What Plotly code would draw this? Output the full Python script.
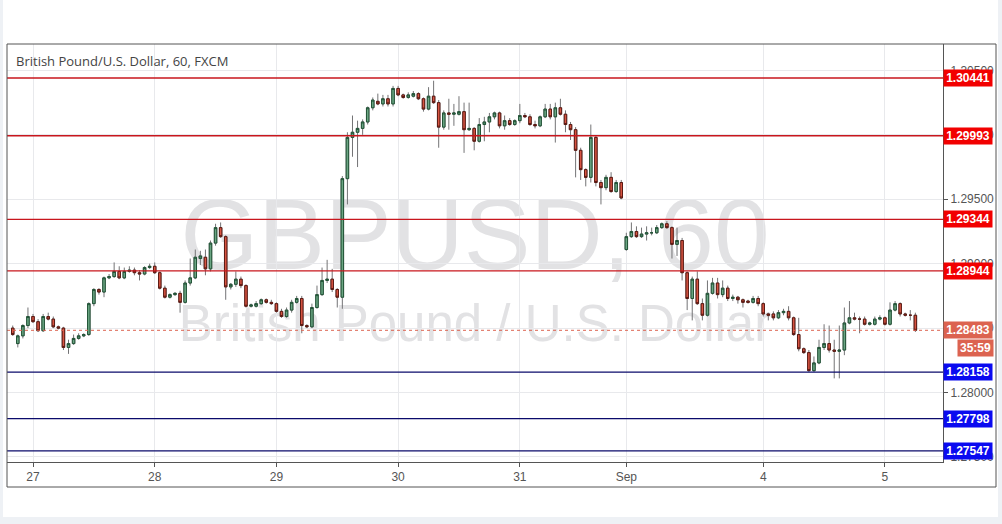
import plotly.graph_objects as go

# ---------------- data (hourly GBP/USD candles) ----------------
FIRST_BAR = -4   # bar number of first candle (bars counted in trading hours from the "27" tick)

OPEN = [
    1.2850, 1.2838, 1.2844, 1.2852, 1.2859, 1.2855, 1.2848, 1.2859, 1.2857, 1.2851,
    1.2850, 1.2835, 1.2838, 1.2842, 1.2844, 1.2845, 1.2869, 1.2880, 1.2878, 1.2889,
    1.2890, 1.2894, 1.2889, 1.2894, 1.2895, 1.2893, 1.2892, 1.2897, 1.2898, 1.2893,
    1.2881, 1.2874, 1.2876, 1.2877, 1.2870, 1.2885, 1.2889, 1.2904, 1.2905, 1.2896,
    1.2916, 1.2928, 1.2921, 1.2882, 1.2884, 1.2888, 1.2883, 1.2867, 1.2867, 1.2869,
    1.2872, 1.2870, 1.2869, 1.2863, 1.2859, 1.2864, 1.2870, 1.2873, 1.2852, 1.2851,
    1.2866, 1.2876, 1.2887, 1.2888, 1.2880, 1.2874, 1.2966, 1.2998, 1.3002, 1.3005,
    1.3010, 1.3021, 1.3026, 1.3024, 1.3028, 1.3024, 1.3036, 1.3031, 1.3029, 1.3030,
    1.3032, 1.3028, 1.3020, 1.3030, 1.3025, 1.3006, 1.3017, 1.3016, 1.3016, 1.3018,
    1.3004, 1.3005, 1.2995, 1.3008, 1.3010, 1.3014, 1.3017, 1.3007, 1.3011, 1.3008,
    1.3011, 1.3015, 1.3014, 1.3008, 1.3007, 1.3014, 1.3020, 1.3014, 1.3021, 1.3016,
    1.3008, 1.3004, 1.2988, 1.2973, 1.2967, 1.2998, 1.2963, 1.2959, 1.2967, 1.2956,
    1.2963, 1.2911, 1.2921, 1.2925, 1.2921, 1.2923, 1.2924, 1.2924, 1.2928, 1.2931,
    1.2928, 1.2915, 1.2918, 1.2893, 1.2873, 1.2888, 1.2869, 1.2860, 1.2877, 1.2885,
    1.2876, 1.2881, 1.2873, 1.2874, 1.2872, 1.2871, 1.2870, 1.2873, 1.2869, 1.2861,
    1.2861, 1.2858, 1.2862, 1.2863, 1.2858, 1.2845, 1.2834, 1.2831, 1.2817, 1.2823,
    1.2835, 1.2838, 1.2833, 1.2832, 1.2833, 1.2854, 1.2858, 1.2857, 1.2857, 1.2853,
    1.2853, 1.2857, 1.2858, 1.2853, 1.2864, 1.2869, 1.2861, 1.2860, 1.2860,
]

HIGH = [
    1.2852, 1.2845, 1.2853, 1.2866, 1.2861, 1.2857, 1.2861, 1.2862, 1.2859, 1.2852,
    1.2851, 1.2841, 1.2845, 1.2846, 1.2846, 1.2870, 1.2881, 1.2881, 1.2890, 1.2892,
    1.2901, 1.2898, 1.2897, 1.2898, 1.2897, 1.2895, 1.2898, 1.2900, 1.2901, 1.2894,
    1.2883, 1.2877, 1.2878, 1.2879, 1.2887, 1.2904, 1.2911, 1.2910, 1.2911, 1.2918,
    1.2931, 1.2932, 1.2922, 1.2885, 1.2894, 1.2890, 1.2884, 1.2869, 1.2871, 1.2873,
    1.2873, 1.2872, 1.2870, 1.2865, 1.2866, 1.2872, 1.2875, 1.2875, 1.2853, 1.2869,
    1.2883, 1.2897, 1.2903, 1.2896, 1.2881, 1.2968, 1.3002, 1.3015, 1.3011, 1.3012,
    1.3022, 1.3029, 1.3032, 1.3031, 1.3031, 1.3038, 1.3038, 1.3032, 1.3033, 1.3034,
    1.3033, 1.3029, 1.3037, 1.3042, 1.3027, 1.3019, 1.3028, 1.3024, 1.3030, 1.3025,
    1.3025, 1.3006, 1.3013, 1.3014, 1.3017, 1.3018, 1.3018, 1.3015, 1.3013, 1.3012,
    1.3024, 1.3017, 1.3016, 1.3011, 1.3015, 1.3024, 1.3024, 1.3025, 1.3028, 1.3019,
    1.3010, 1.3006, 1.2990, 1.2974, 1.3008, 1.2999, 1.2965, 1.2969, 1.2971, 1.2965,
    1.2965, 1.2924, 1.2932, 1.2929, 1.2928, 1.2929, 1.2928, 1.2930, 1.2932, 1.2933,
    1.2929, 1.2928, 1.2920, 1.2894, 1.2890, 1.2894, 1.2873, 1.2887, 1.2889, 1.2889,
    1.2887, 1.2883, 1.2876, 1.2875, 1.2873, 1.2872, 1.2875, 1.2875, 1.2870, 1.2862,
    1.2863, 1.2864, 1.2865, 1.2867, 1.2859, 1.2858, 1.2835, 1.2833, 1.2828, 1.2841,
    1.2853, 1.2852, 1.2841, 1.2852, 1.2866, 1.2871, 1.2862, 1.2859, 1.2859, 1.2855,
    1.2859, 1.2860, 1.2859, 1.2870, 1.2871, 1.2870, 1.2862, 1.2864, 1.2862,
]

LOW = [
    1.2844, 1.2835, 1.2842, 1.2850, 1.2854, 1.2847, 1.2847, 1.2856, 1.2850, 1.2849,
    1.2833, 1.2830, 1.2837, 1.2841, 1.2843, 1.2844, 1.2867, 1.2876, 1.2874, 1.2888,
    1.2889, 1.2888, 1.2888, 1.2893, 1.2891, 1.2887, 1.2891, 1.2896, 1.2892, 1.2880,
    1.2873, 1.2873, 1.2875, 1.2862, 1.2869, 1.2883, 1.2888, 1.2899, 1.2891, 1.2894,
    1.2914, 1.2920, 1.2872, 1.2880, 1.2882, 1.2881, 1.2866, 1.2866, 1.2866, 1.2868,
    1.2869, 1.2868, 1.2862, 1.2858, 1.2858, 1.2862, 1.2869, 1.2846, 1.2850, 1.2850,
    1.2865, 1.2875, 1.2885, 1.2878, 1.2866, 1.2865, 1.2946, 1.2983, 1.2975, 1.3000,
    1.3008, 1.3019, 1.3023, 1.3022, 1.3022, 1.3022, 1.3030, 1.3028, 1.3028, 1.3029,
    1.3027, 1.3018, 1.3019, 1.3024, 1.2990, 1.3004, 1.3004, 1.3007, 1.3015, 1.2986,
    1.3003, 1.2988, 1.2994, 1.2995, 1.3002, 1.3012, 1.3005, 1.3004, 1.3007, 1.3007,
    1.3009, 1.3013, 1.3007, 1.3005, 1.3006, 1.3013, 1.3012, 1.2994, 1.3015, 1.3002,
    1.2996, 1.2967, 1.2965, 1.2960, 1.2963, 1.2960, 1.2946, 1.2957, 1.2955, 1.2955,
    1.2950, 1.2910, 1.2920, 1.2920, 1.2920, 1.2918, 1.2922, 1.2923, 1.2927, 1.2927,
    1.2904, 1.2906, 1.2887, 1.2864, 1.2856, 1.2868, 1.2856, 1.2859, 1.2876, 1.2873,
    1.2874, 1.2871, 1.2871, 1.2869, 1.2866, 1.2869, 1.2869, 1.2867, 1.2859, 1.2856,
    1.2856, 1.2857, 1.2860, 1.2856, 1.2844, 1.2832, 1.2830, 1.2816, 1.2816, 1.2822,
    1.2833, 1.2831, 1.2811, 1.2811, 1.2829, 1.2853, 1.2856, 1.2846, 1.2852, 1.2852,
    1.2852, 1.2856, 1.2852, 1.2852, 1.2863, 1.2859, 1.2859, 1.2856, 1.2847,
]

CLOSE = [
    1.2845, 1.2844, 1.2852, 1.2859, 1.2855, 1.2848, 1.2859, 1.2857, 1.2851, 1.2850,
    1.2835, 1.2838, 1.2842, 1.2844, 1.2845, 1.2869, 1.2880, 1.2878, 1.2889, 1.2890,
    1.2894, 1.2889, 1.2894, 1.2895, 1.2893, 1.2892, 1.2897, 1.2898, 1.2893, 1.2881,
    1.2874, 1.2876, 1.2877, 1.2870, 1.2885, 1.2889, 1.2905, 1.2906, 1.2896, 1.2916,
    1.2928, 1.2921, 1.2882, 1.2884, 1.2888, 1.2883, 1.2867, 1.2868, 1.2869, 1.2872,
    1.2870, 1.2869, 1.2863, 1.2859, 1.2864, 1.2870, 1.2873, 1.2852, 1.2851, 1.2866,
    1.2876, 1.2887, 1.2888, 1.2880, 1.2874, 1.2966, 1.2998, 1.3002, 1.3005, 1.3010,
    1.3021, 1.3027, 1.3024, 1.3028, 1.3024, 1.3036, 1.3031, 1.3029, 1.3031, 1.3032,
    1.3028, 1.3020, 1.3030, 1.3025, 1.3006, 1.3017, 1.3016, 1.3017, 1.3018, 1.3004,
    1.3005, 1.2995, 1.3008, 1.3010, 1.3014, 1.3017, 1.3007, 1.3011, 1.3008, 1.3011,
    1.3015, 1.3014, 1.3008, 1.3007, 1.3014, 1.3020, 1.3014, 1.3021, 1.3016, 1.3008,
    1.3004, 1.2988, 1.2973, 1.2967, 1.2998, 1.2963, 1.2959, 1.2967, 1.2956, 1.2963,
    1.2951, 1.2921, 1.2925, 1.2921, 1.2923, 1.2924, 1.2924, 1.2928, 1.2931, 1.2928,
    1.2915, 1.2918, 1.2893, 1.2873, 1.2888, 1.2869, 1.2860, 1.2877, 1.2885, 1.2876,
    1.2881, 1.2873, 1.2874, 1.2872, 1.2870, 1.2870, 1.2873, 1.2869, 1.2861, 1.2860,
    1.2858, 1.2862, 1.2863, 1.2858, 1.2845, 1.2834, 1.2831, 1.2817, 1.2823, 1.2835,
    1.2838, 1.2833, 1.2832, 1.2833, 1.2854, 1.2858, 1.2857, 1.2857, 1.2853, 1.2854,
    1.2857, 1.2858, 1.2853, 1.2864, 1.2869, 1.2861, 1.2860, 1.2860, 1.28483,
]

TICK_BARS = [0, 24, 48, 72, 96, 117, 144, 168]
TICK_LABELS = ["27", "28", "29", "30", "31", "Sep", "4", "5"]

RESISTANCE = [1.30441, 1.29993, 1.29344, 1.28944]
SUPPORT = [1.28158, 1.27798, 1.27547]
LAST_PRICE = 1.28483
COUNTDOWN = "35:59"

TITLE = "British Pound/U.S. Dollar, 60, FXCM"
WATERMARK_1 = "GBPUSD, 60"
WATERMARK_2 = "British Pound / U.S. Dollar"

assert len(OPEN) == len(HIGH) == len(LOW) == len(CLOSE)

# ---------------- styling ----------------
W, H = 1002, 524
ML, MR, MT, MB = 7, 59, 44, 62
PW, PH = W - ML - MR, H - MT - MB

UP_FILL, DOWN_FILL = "#6ba583", "#d75442"
UP_LINE, DOWN_LINE = "#225437", "#5b1a13"
WICK = "#737375"
RES_LINE, RES_BOX = "#c8161d", "#f20000"
SUP_LINE, SUP_BOX = "#0b0b6b", "#0a0af0"
LAST_COL = "#dc6350"
AXIS_COL = "#555555"
GRID_COL = "#e8e9ec"
FONT = "Liberation Sans"


def px_x(px):
    return (px - ML) / PW


def px_y(py):
    return (H - MB - py) / PH


x = list(range(FIRST_BAR, FIRST_BAR + len(CLOSE)))
body_hi = [max(o, c) for o, c in zip(OPEN, CLOSE)]
body_lo = [min(o, c) for o, c in zip(OPEN, CLOSE)]

fig = go.Figure()
# wicks (grey)
fig.add_trace(go.Candlestick(
    x=x, open=OPEN, high=HIGH, low=LOW, close=CLOSE,
    increasing=dict(line=dict(color=WICK, width=1), fillcolor=UP_FILL),
    decreasing=dict(line=dict(color=WICK, width=1), fillcolor=DOWN_FILL),
    whiskerwidth=0, showlegend=False, hoverinfo="skip",
))
# bodies with dark borders
fig.add_trace(go.Candlestick(
    x=x, open=OPEN, high=body_hi, low=body_lo, close=CLOSE,
    increasing=dict(line=dict(color=UP_LINE, width=1), fillcolor=UP_FILL),
    decreasing=dict(line=dict(color=DOWN_LINE, width=1), fillcolor=DOWN_FILL),
    whiskerwidth=0, showlegend=False,
))

shapes = []
# white card behind chart
shapes.append(dict(type="rect", xref="paper", yref="paper",
                   x0=px_x(3), x1=px_x(998), y0=px_y(517), y1=px_y(0),
                   fillcolor="white", line=dict(width=0), layer="below"))
# watermark
shapes.append(dict(type="rect", xref="paper", yref="paper",
                   x0=px_x(100), x1=px_x(850), y0=px_y(275), y1=px_y(175),
                   fillcolor="rgba(0,0,0,0)", line=dict(width=0), layer="below",
                   label=dict(text=WATERMARK_1, textposition="middle center",
                              font=dict(family=FONT, size=100, color="#e2e2e4"))))
shapes.append(dict(type="rect", xref="paper", yref="paper",
                   x0=px_x(100), x1=px_x(850), y0=px_y(342), y1=px_y(295),
                   fillcolor="rgba(0,0,0,0)", line=dict(width=0), layer="below",
                   label=dict(text=WATERMARK_2, textposition="middle center",
                              font=dict(family=FONT, size=51, color="#e2e2e4"))))
# level lines
for lv in RESISTANCE:
    shapes.append(dict(type="line", xref="paper", yref="y", x0=0, x1=1, y0=lv, y1=lv,
                       line=dict(color=RES_LINE, width=1.3)))
for lv in SUPPORT:
    shapes.append(dict(type="line", xref="paper", yref="y", x0=0, x1=1, y0=lv, y1=lv,
                       line=dict(color=SUP_LINE, width=1.3)))
shapes.append(dict(type="line", xref="paper", yref="y", x0=0, x1=1,
                   y0=LAST_PRICE, y1=LAST_PRICE,
                   line=dict(color=LAST_COL, width=1, dash="dot")))
# outer frame
shapes.append(dict(type="rect", xref="paper", yref="paper",
                   x0=0, x1=px_x(996), y0=px_y(487), y1=1,
                   line=dict(color=AXIS_COL, width=1), fillcolor="rgba(0,0,0,0)"))

annotations = [dict(
    text=TITLE, xref="paper", yref="paper", x=px_x(14), y=px_y(61),
    xanchor="left", yanchor="middle", showarrow=False,
    font=dict(family="Open Sans", size=13, color="#444444"),
)]


def price_label(val, color, text=None, yshift=0, width=46):
    return dict(text="<b>%s</b>" % (text if text is not None else "%.5f" % val),
                xref="paper", yref="y", x=1.0, y=val, xanchor="left", yanchor="middle",
                yshift=yshift, showarrow=False, bgcolor=color, borderpad=1,
                width=width, height=14, align="center",
                font=dict(family=FONT, size=12, color="white"))


for lv in RESISTANCE:
    annotations.append(price_label(lv, RES_BOX))
for lv in SUPPORT:
    annotations.append(price_label(lv, SUP_BOX))
annotations.append(price_label(LAST_PRICE, LAST_COL))
cd = price_label(LAST_PRICE, LAST_COL, text=COUNTDOWN, yshift=-18, width=33)
cd.update(x=px_x(994), xanchor="right")
annotations.append(cd)

fig.update_layout(
    width=W, height=H,
    margin=dict(l=ML, r=MR, t=MT, b=MB, pad=0),
    paper_bgcolor="#eef1f5", plot_bgcolor="white",
    showlegend=False,
    shapes=shapes, annotations=annotations,
    xaxis=dict(
        range=[-5.13, 179.45], tickmode="array", tickvals=TICK_BARS, ticktext=TICK_LABELS,
        showgrid=True, gridcolor=GRID_COL, gridwidth=1, zeroline=False,
        ticks="outside", ticklen=4, tickcolor=AXIS_COL,
        showline=True, linecolor=AXIS_COL, linewidth=1,
        tickfont=dict(family=FONT, size=12, color="#555555"),
        rangeslider=dict(visible=False), fixedrange=True,
    ),
    yaxis=dict(
        side="right", range=[1.27461, 1.30705], tick0=1.275, dtick=0.005,
        tickformat=".5f", showgrid=True, gridcolor=GRID_COL, gridwidth=1, zeroline=False,
        ticks="outside", ticklen=4, tickcolor=AXIS_COL,
        showline=True, linecolor=AXIS_COL, linewidth=1,
        tickfont=dict(family=FONT, size=12, color="#555555"), fixedrange=True,
    ),
)

fig.write_html("out.html", config={"displayModeBar": False},
               post_script="document.body.style.margin='0';")
